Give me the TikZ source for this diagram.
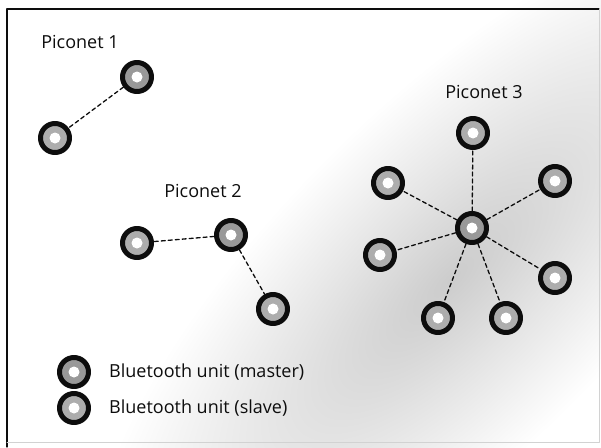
\documentclass[tikz,border=0pt]{standalone}
\usepackage{fontspec}
\setmainfont{Open Sans}
\usetikzlibrary{positioning}
\definecolor{NetInk}{gray}{0.05}
\definecolor{NetRing}{gray}{0.60}
\definecolor{NetRingLight}{gray}{0.68}
\definecolor{NetHaze}{gray}{0.80}
\definecolor{NetHazeMid}{gray}{0.89}
\pgfdeclareradialshading{nethaze}{\pgfpoint{0bp}{0bp}}{%
    color(0bp)=(NetHaze); color(10bp)=(NetHazeMid); color(23bp)=(white); color(50bp)=(white)}
\tikzset{
    net/diagram/.style={
        x=1pt, y=1pt,
        font=\fontsize{18}{21}\selectfont,
        text=NetInk,
        line cap=round,
        line join=round
    },
    net/unit/.style={
        circle, minimum size=29pt, inner sep=0pt,
        draw=NetInk, line width=5pt, fill=NetRing,
        path picture={\fill[white] (path picture bounding box.center) circle (5.5pt);}
    },
    net/master/.style={net/unit},
    net/slave/.style={net/unit, fill=NetRingLight},
    net/link/.style={draw=NetInk, line width=1.3pt, dash pattern=on 4pt off 3pt},
    net/title/.style={inner sep=1pt},
    net/legend/.style={anchor=west, inner sep=1pt}
}
\begin{document}
\begin{tikzpicture}[net/diagram]
    \useasboundingbox (0,0) rectangle (601,-447);
    % background haze
    \begin{scope}[transform canvas={rotate around={45:(450,-280)}}]
        \shade[shading=nethaze] (450,-280) ellipse [x radius=520, y radius=190];
    \end{scope}
    \draw[NetInk, line width=1.2pt] (7,-447) -- (7,-9) -- (599,-9);
    \draw[gray!35, line width=0.6pt] (599,-9) -- (599,-442) -- (7,-442);

    % piconet 1
    \node[net/title] (t1) at (80,-42) {Piconet 1};
    \node[net/master] (a0) at (137,-77) {};
    \node[net/slave]  (a1) at (55,-138) {};
    \draw[net/link] (a0) -- (a1);

    % piconet 2
    \node[net/title] (t2) at (203,-191) {Piconet 2};
    \node[net/master] (b0) at (231,-235) {};
    \node[net/slave]  (b1) at (137,-243) {};
    \node[net/slave]  (b2) at (273,-309) {};
    \draw[net/link] (b0) -- (b1);
    \draw[net/link] (b0) -- (b2);

    % piconet 3
    \node[net/title] (t3) at (484,-92) {Piconet 3};
    \node[net/master] (c0) at (472,-228) {};
    \node[net/slave]  (c1) at (473,-133) {};
    \node[net/slave]  (c2) at (555,-181) {};
    \node[net/slave]  (c3) at (555,-278) {};
    \node[net/slave]  (c4) at (506,-318) {};
    \node[net/slave]  (c5) at (438,-318) {};
    \node[net/slave]  (c6) at (380,-255) {};
    \node[net/slave]  (c7) at (388,-183) {};
    \foreach \s in {c1,c2,c3,c4,c5,c6,c7}
        \draw[net/link] (c0) -- (\s);

    % legend
    \node[net/master] (km) at (74,-372) {};
    \node[net/slave]  (ks) at (74,-408) {};
    \node[net/legend] (lm) at (108,-372) {Bluetooth unit (master)};
    \node[net/legend] (ls) at (108,-408) {Bluetooth unit (slave)};
\end{tikzpicture}
\end{document}
